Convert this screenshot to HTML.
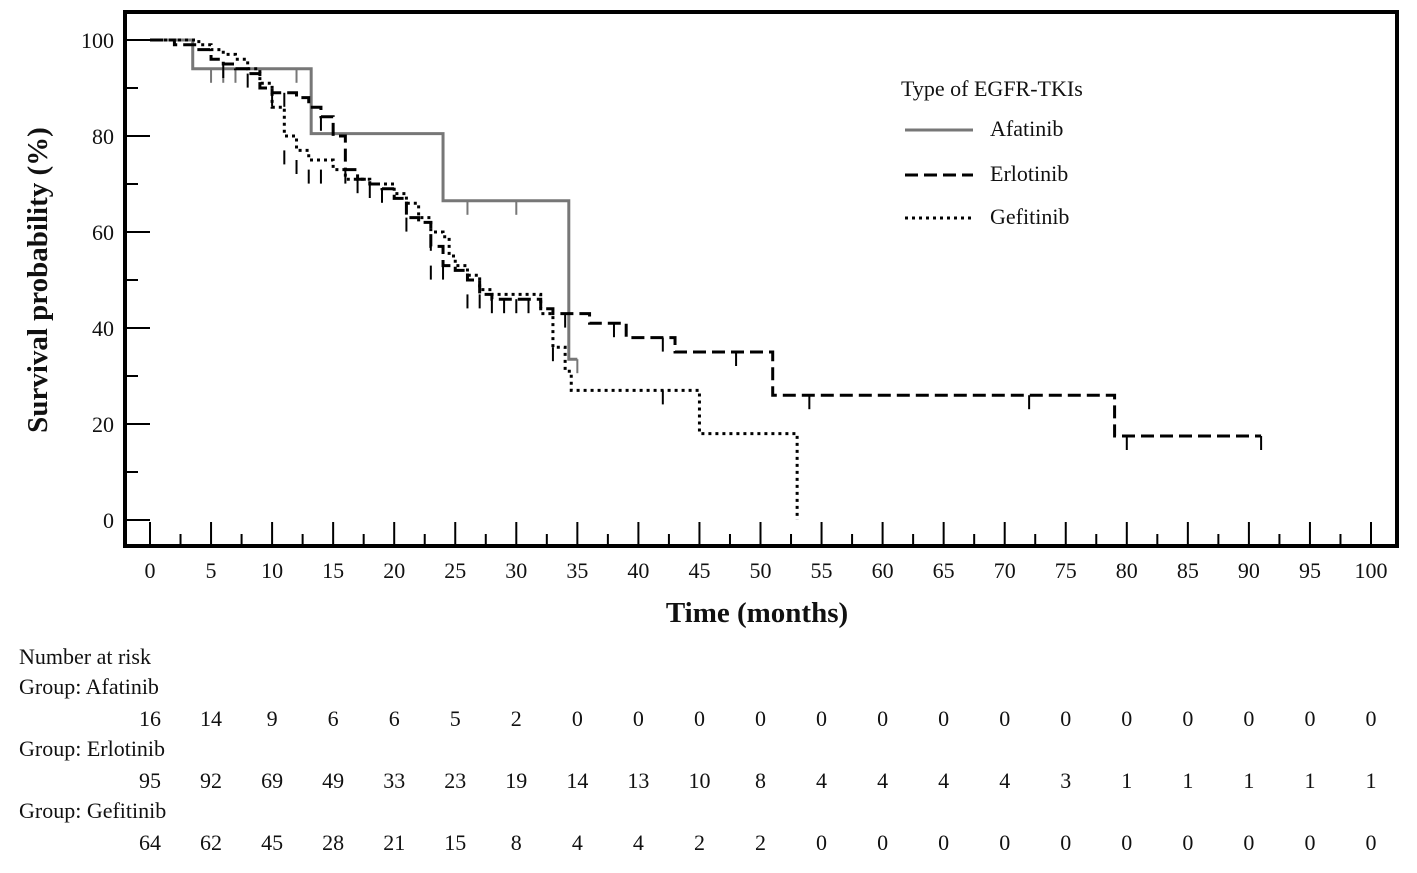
<!DOCTYPE html>
<html><head><meta charset="utf-8"><style>
body{margin:0;background:#fff;}
svg text{font-family:"Liberation Serif",serif;fill:#111;}
</style></head><body>
<svg id="chart" width="1417" height="868" xmlns="http://www.w3.org/2000/svg">
<g id="marks"></g>
<rect x="125" y="12" width="1272" height="534" fill="none" stroke="#000" stroke-width="4"/>
<text x="757" y="622" font-size="29" font-weight="bold" text-anchor="middle">Time (months)</text>
<text transform="translate(47,280) rotate(-90)" font-size="29" font-weight="bold" text-anchor="middle">Survival probability (%)</text>
<g>
<text x="901" y="96" font-size="22">Type of EGFR-TKIs</text>
<line x1="905" y1="130" x2="973" y2="130" stroke="#777" stroke-width="3"/>
<text x="990" y="136" font-size="22">Afatinib</text>
<line x1="905" y1="175" x2="973" y2="175" stroke="#000" stroke-width="3" stroke-dasharray="13,6"/>
<text x="990" y="181" font-size="22">Erlotinib</text>
<line x1="905" y1="218" x2="973" y2="218" stroke="#000" stroke-width="3" stroke-dasharray="3,4"/>
<text x="990" y="224" font-size="22">Gefitinib</text>
</g>
<g id="risk">
<text x="19" y="664" font-size="22">Number at risk</text>
<text x="19" y="694" font-size="22">Group: Afatinib</text>
<text x="19" y="756" font-size="22">Group: Erlotinib</text>
<text x="19" y="818" font-size="22">Group: Gefitinib</text>
</g>
</svg>
<script>
const xTicks=[0,5,10,15,20,25,30,35,40,45,50,55,60,65,70,75,80,85,90,95,100];
const yTicks=[0,20,40,60,80,100];
const afatinib=[[0,100],[3.5,94],[13.2,80.5],[24,66.5],[34.3,33.5],[35,33.5]];
const afatinibCens=[[5,94],[6,94],[7,94],[12,94],[26,66.5],[30,66.5],[35,33.5]];
const erlotinib=[[0,100],[2,99],[4,98],[5,96],[6,95],[7,94],[8,93],[9,90],[10,89],[12,88],[13,86],[14,84],[15,80],[16,73],[17,71],[18,70],[19,69],[20,67],[21,63],[22,62],[23,57],[24,53],[25,52],[26,50],[27,47],[28,46],[32,44],[33,43],[36,41],[39,38],[43,35],[51,26],[79,17.5],[91,17.5]];
const erlotinibCens=[[6,95],[8,93],[10,89],[11,89],[14,84],[16,73],[17,71],[19,69],[21,63],[23,53],[24,53],[26,47],[28,46],[29,46],[30,46],[31,46],[34,43],[38,41],[42,38],[48,35],[54,26],[72,26],[80,17.5],[91,17.5]];
const gefitinib=[[0,100],[3,100],[4,99],[5,98],[6,97],[7,96],[8,94],[9,91],[10,86],[11,80],[12,77],[13,75],[15,73],[16,71],[18,70],[20,68],[21,66],[22,63],[23,60],[24,59],[24.5,55],[25,53],[26,51],[27,48],[28,47],[32,43],[33,36],[34,31],[34.5,27],[45,18],[53,18],[53,0]];
const gefitinibCens=[[11,77],[12,75],[13,73],[14,73],[18,70],[23,59],[27,47],[33,36],[42,27]];
const riskAfatinib=[16,14,9,6,6,5,2,0,0,0,0,0,0,0,0,0,0,0,0,0,0];
const riskErlotinib=[95,92,69,49,33,23,19,14,13,10,8,4,4,4,4,3,1,1,1,1,1];
const riskGefitinib=[64,62,45,28,21,15,8,4,4,2,2,0,0,0,0,0,0,0,0,0,0];
const NS="http://www.w3.org/2000/svg";
const X=t=>150+t*12.21, Y=s=>520-s*4.8;
const svg=document.getElementById('chart'), g=document.getElementById('marks'), risk=document.getElementById('risk');
function mk(tag,at,parent){const e=document.createElementNS(NS,tag);for(const k in at)e.setAttribute(k,at[k]);(parent||g).appendChild(e);return e;}
xTicks.forEach(t=>{
  const l=mk('line',{x1:X(t),x2:X(t),y1:546,y2:522,stroke:'#000','stroke-width':2});
  
  
  if(t<100){const m=mk('line',{x1:X(t+2.5),x2:X(t+2.5),y1:546,y2:534,stroke:'#000','stroke-width':2});
  
  }
  const tx=mk('text',{x:X(t),y:578,'font-size':22,'text-anchor':'middle'},svg);tx.textContent=t;
  
  
});
yTicks.forEach(s=>{
  const l=mk('line',{x1:125,x2:150,y1:Y(s),y2:Y(s),stroke:'#000','stroke-width':2});
  
  
  if(s<100){const m=mk('line',{x1:125,x2:138,y1:Y(s+10),y2:Y(s+10),stroke:'#000','stroke-width':2});
  
  }
  const tx=mk('text',{x:114,y:Y(s)+8,'font-size':22,'text-anchor':'end'},svg);tx.textContent=s;
  
  
});
function curve(pts,cens,name,stroke,dash){
  let d='M'+X(pts[0][0])+','+Y(pts[0][1]);
  for(let i=1;i<pts.length;i++){d+=' H'+X(pts[i][0])+' V'+Y(pts[i][1]);}
  const p=mk('path',{d:d,fill:'none',stroke:stroke,'stroke-width':3,'stroke-dasharray':dash});
  
  
  cens.forEach(c=>{
    const l=mk('line',{x1:X(c[0]),x2:X(c[0]),y1:Y(c[1]),y2:Y(c[1])+14,stroke:stroke,'stroke-width':2});
    
    
  });
}
curve(afatinib,afatinibCens,'afatinib','#777','none');
curve(erlotinib,erlotinibCens,'erlotinib','#000','13,6');
curve(gefitinib,gefitinibCens,'gefitinib','#000','3,4');
[[riskAfatinib,726,'afatinib'],[riskErlotinib,788,'erlotinib'],[riskGefitinib,850,'gefitinib']].forEach(r=>{
  r[0].forEach((v,i)=>{
    const tx=mk('text',{x:X(xTicks[i]),y:r[1],'font-size':22,'text-anchor':'middle'},risk);tx.textContent=v;
    
    
  });
});
</script>
</body></html>
